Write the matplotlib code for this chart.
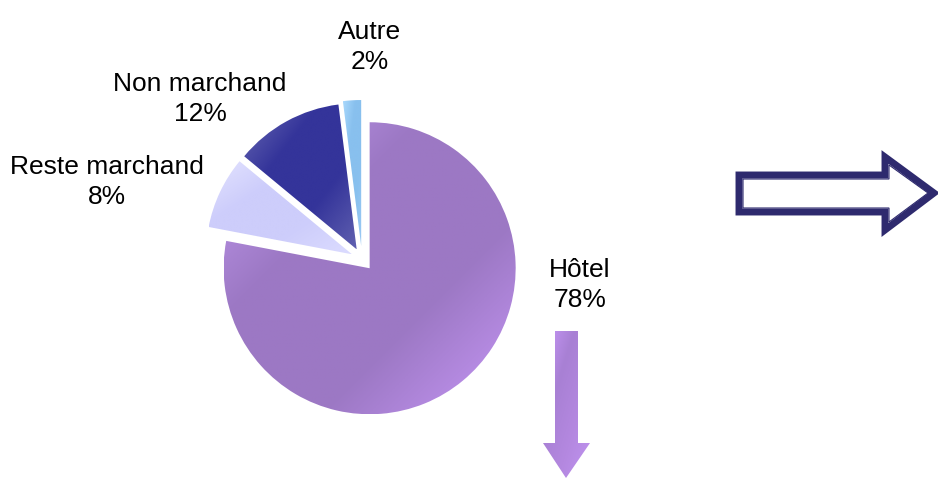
import numpy as np
import matplotlib
matplotlib.use("Agg")
import matplotlib.pyplot as plt
from matplotlib.colors import LinearSegmentedColormap
from matplotlib.patches import Polygon

plt.rcParams['font.family'] = ['Liberation Sans', 'DejaVu Sans']

# Data
labels = ['Hôtel', 'Reste marchand', 'Non marchand', 'Autre']
shares = [78, 8, 12, 2]
explode = [12, 11, 11, 13]  # offsets in pixels (pie explode is in data units)

# gradient colours per slice (light -> dark -> light)
grads = [
    ['#c49cf2', '#9c78c4', '#9c78c4', '#c898f8'],
    ['#e4e4ff', '#cdcdfb', '#cdcdfb', '#dcdcff'],
    ['#6a6ab4', '#34349a', '#34349a', '#6060b0'],
    ['#a8d8fc', '#88c0ee', '#88c0ee', '#9ccaf4'],
]

W, H = 938, 478
fig = plt.figure(figsize=(9.38, 4.78), dpi=100)
ax = fig.add_axes([0, 0, 1, 1])

cx, cy, r = 362, 219, 146
wedges, _ = ax.pie(shares, explode=explode, startangle=90, counterclock=False,
                   center=(cx, cy), radius=r, frame=False,
                   wedgeprops=dict(linewidth=0))
ax.set_xlim(0, W)
ax.set_ylim(0, H)
ax.set_aspect('auto')
ax.axis('off')


def fill_gradient(patch, colors):
    bb = patch.get_path().get_extents(patch.get_patch_transform())
    xx, yy = np.meshgrid(np.linspace(0, 1, 200), np.linspace(0, 1, 200))
    z = (xx + yy) / 2
    cmap = LinearSegmentedColormap.from_list('g', colors)
    im = ax.imshow(z, cmap=cmap, extent=[bb.x0, bb.x1, bb.y0, bb.y1],
                   origin='upper', aspect='auto', zorder=1, vmin=0, vmax=1)
    im.set_clip_path(patch)
    patch.set_facecolor('none')


for w, g in zip(wedges, grads):
    fill_gradient(w, g)

# labels (pixel positions, y measured from top)
label_pos = [(580, 285), (107, 182), (200, 99), (370, 47)]
for lab, s, (x, y) in zip(labels, shares, label_pos):
    ax.text(x, H - y, f'{lab}\n{s}%', ha='center', va='center',
            fontsize=19, linespacing=1.3, color='black')

# right outlined arrow
pts = [(739, 175), (885, 175), (885, 157), (934, 193), (885, 230), (885, 212), (739, 212)]
pts = [(x, H - y) for x, y in pts]
ax.add_patch(Polygon(pts, closed=True, facecolor='white', edgecolor='#2e2a6e',
                     linewidth=5, joinstyle='miter', zorder=2))
inner = [(743, 179), (889, 179), (889, 165), (928, 193), (889, 222), (889, 208), (743, 208)]
inner = [(x, H - y) for x, y in inner]
ax.add_patch(Polygon(inner, closed=True, facecolor='none', edgecolor='#2e2a6e',
                     linewidth=0.8, joinstyle='miter', zorder=3))

# down arrow below Hôtel
down = [(555, 331), (578, 331), (578, 443), (590, 443), (566, 478), (543, 443), (555, 443)]
down = [(x, H - y) for x, y in down]
arr = Polygon(down, closed=True, facecolor='none', linewidth=0, zorder=2)
ax.add_patch(arr)
fill_gradient(arr, ['#c898f8', '#a880d4', '#b488e0', '#c094f0'])

fig.savefig('out.png', dpi=100)
